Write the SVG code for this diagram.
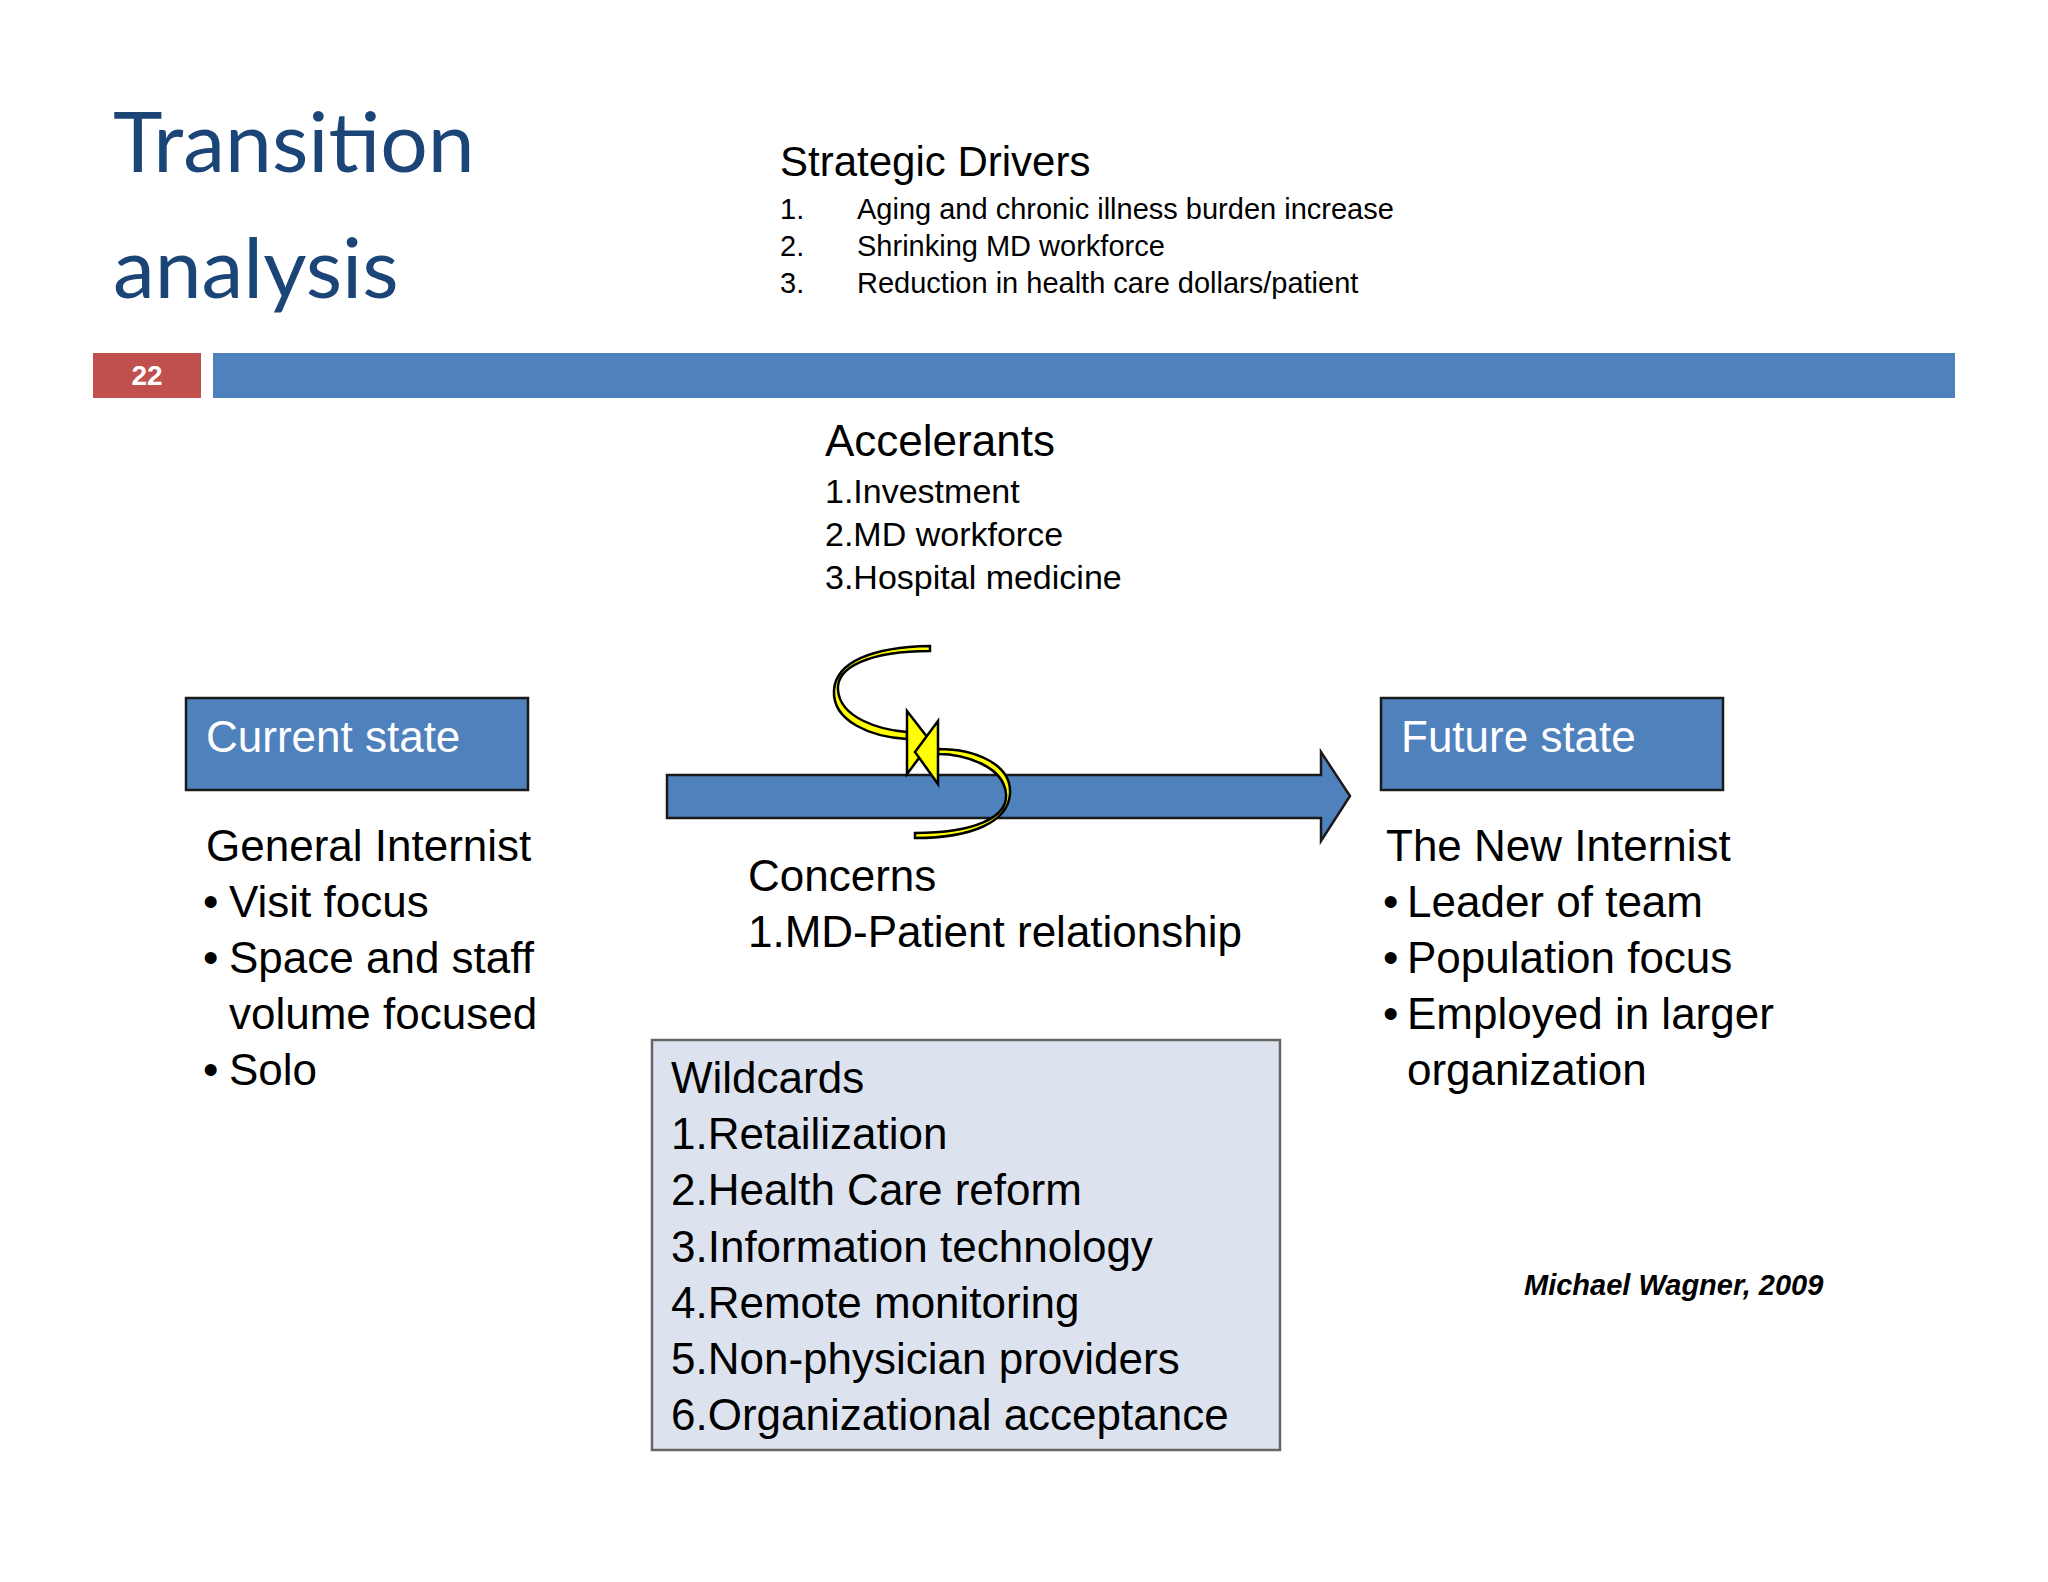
<svg xmlns="http://www.w3.org/2000/svg" width="2048" height="1582" viewBox="0 0 2048 1582">
<style>
text{font-family:"Liberation Sans",Arial,sans-serif;fill:#000}
.title{font-family:"Lato","Open Sans",sans-serif;font-size:84px;fill:#1B4576}
.big{font-size:44px}
.med{font-size:34px}
.sm{font-size:29px}
.wh{fill:#fff}
.box{fill:#4F81BD;stroke:#1a1a1a;stroke-width:2.5}
.yel{fill:#FFFF00;stroke:#000;stroke-width:2.5}
</style>
<rect width="2048" height="1582" fill="#fff"/>
<g id="title"><text class="title" x="113" y="172">Transition</text><text class="title" x="113" y="298">analysis</text></g>
<g id="drivers">
<text x="780" y="176" style="font-size:42px">Strategic Drivers</text>
<text class="sm" x="780" y="219">1.</text><text class="sm" x="857" y="219">Aging and chronic illness burden increase</text>
<text class="sm" x="780" y="256">2.</text><text class="sm" x="857" y="256">Shrinking MD workforce</text>
<text class="sm" x="780" y="293">3.</text><text class="sm" x="857" y="293">Reduction in health care dollars/patient</text>
</g>
<g id="bar">
<rect x="93" y="353" width="108" height="45" fill="#C0504D"/>
<rect x="213" y="353" width="1742" height="45" fill="#4F81BD"/>
<text x="147" y="385" text-anchor="middle" class="wh" style="font-size:28px;font-weight:bold">22</text>
</g>
<g id="accelerants">
<text class="big" x="825" y="456">Accelerants</text>
<text class="med" x="825" y="503">1.Investment</text>
<text class="med" x="825" y="546">2.MD workforce</text>
<text class="med" x="825" y="589">3.Hospital medicine</text>
</g>
<g id="current">
<rect class="box" x="186" y="698" width="342" height="92"/>
<text class="big wh" x="206" y="752">Current state</text>
</g>
<g id="future">
<rect class="box" x="1381" y="698" width="342" height="92"/>
<text class="big wh" x="1401" y="752">Future state</text>
</g>
<g id="connectors">
<path class="box" d="M667 775 H1321 V752 L1350 796 L1321 841 V818 H667 Z" stroke-width="3"/>
<path class="yel" d="M930 651 C870 651 836 667 838 690 C840 718 880 730 907 732 L907 739 C872 737 832 722 834 690 C836 662 872 647 930 646 Z"/>
<path class="yel" d="M907 711 L931 742 L907 774 Z"/>
<path class="yel" d="M915 833 C975 833 1008 817 1006 794 C1004 766 964 754 938 754 L938 749 C975 749 1012 764 1010 794 C1008 822 972 838 915 838 Z"/>
<path class="yel" d="M938 721 L915 752 L938 784 Z"/>
</g>
<g id="general">
<text class="big" x="206" y="861">General Internist</text>
<text class="big" x="203" y="917">•</text><text class="big" x="229" y="917">Visit focus</text>
<text class="big" x="203" y="973">•</text><text class="big" x="229" y="973">Space and staff</text>
<text class="big" x="229" y="1029">volume focused</text>
<text class="big" x="203" y="1085">•</text><text class="big" x="229" y="1085">Solo</text>
</g>
<g id="concerns">
<text class="big" x="748" y="891">Concerns</text>
<text class="big" x="748" y="947">1.MD-Patient relationship</text>
</g>
<g id="newinternist">
<text class="big" x="1386" y="861">The New Internist</text>
<text class="big" x="1383" y="917">•</text><text class="big" x="1407" y="917">Leader of team</text>
<text class="big" x="1383" y="973">•</text><text class="big" x="1407" y="973">Population focus</text>
<text class="big" x="1383" y="1029">•</text><text class="big" x="1407" y="1029">Employed in larger</text>
<text class="big" x="1407" y="1085">organization</text>
</g>
<g id="wildcards">
<rect x="652" y="1040" width="628" height="410" fill="#DCE3EF" stroke="#666" stroke-width="2.5"/>
<text class="big" x="671" y="1093">Wildcards</text>
<text class="big" x="671" y="1149">1.Retailization</text>
<text class="big" x="671" y="1205">2.Health Care reform</text>
<text class="big" x="671" y="1262">3.Information technology</text>
<text class="big" x="671" y="1318">4.Remote monitoring</text>
<text class="big" x="671" y="1374">5.Non-physician providers</text>
<text class="big" x="671" y="1430">6.Organizational acceptance</text>
</g>
<text x="1524" y="1295" style="font-size:29px;font-weight:bold;font-style:italic">Michael Wagner, 2009</text>
</svg>
